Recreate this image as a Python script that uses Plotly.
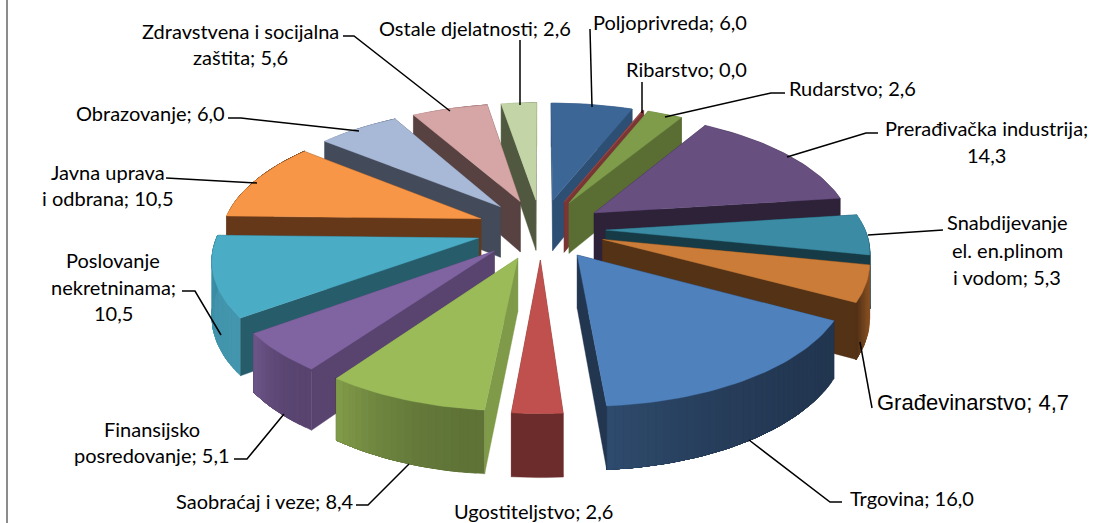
import math
import plotly.graph_objects as go

# ---- data ----
categories = ["Poljoprivreda", "Ribarstvo", "Rudarstvo", "Prerađivačka industrija",
              "Snabdijevanje el. en.plinom i vodom", "Građevinarstvo", "Trgovina",
              "Ugostiteljstvo", "Saobraćaj i veze", "Finansijsko posredovanje",
              "Poslovanje nekretninama", "Javna uprava i odbrana", "Obrazovanje",
              "Zdravstvena i socijalna zaštita", "Ostale djelatnosti"]
values = [6.0, 0.1, 2.6, 14.3, 5.3, 4.7, 16.0, 2.6, 8.4, 5.1, 10.5, 10.5, 6.0, 5.6, 2.6]

top_colors = ["#3C6696", "#A34F4C", "#7E9C4A", "#674F80", "#3A8BA3", "#CA7C38", "#4F81BD",
              "#C0504D", "#9BBB59", "#8064A2", "#4BACC6", "#F79646", "#A8B9D7", "#D6A5A5", "#C3D4A6"]
side_colors = ["#2E4F74", "#7A3634", "#5A6E34", "#2D2238", "#173B46", "#533216", "#223650",
               "#6C2C2B", "#7F9A48", "#58446F", "#275C6B", "#65381A", "#434B5A", "#584141", "#50593F"]
rim_start = ["#2E4F74", "#7A3634", "#5A6E34", "#2D2238", "#2F7A90", "#8A5224", "#223650",
             "#6C2C2B", "#5F7337", "#58446F", "#4396AD", "#8A4F20", "#8C9BB5", "#B58B8B", "#A5B48C"]
rim_end = ["#2E4F74", "#7A3634", "#5A6E34", "#2D2238", "#173B46", "#533216", "#2E4A6C",
           "#6C2C2B", "#7F9A48", "#6C5488", "#3A8BA3", "#65381A", "#6E7B92", "#8F7272", "#8A9874"]

label_lines = [["Poljoprivreda; 6,0"], ["Ribarstvo; 0,0"], ["Rudarstvo; 2,6"],
               ["Prerađivačka industrija;", "14,3"],
               ["Snabdijevanje", "el. en.plinom", "i vodom; 5,3"], ["Građevinarstvo; 4,7"],
               ["Trgovina; 16,0"], ["Ugostiteljstvo; 2,6"], ["Saobraćaj i veze; 8,4"],
               ["Finansijsko", "posredovanje; 5,1"], ["Poslovanje", "nekretninama;", "10,5"],
               ["Javna uprava", "i odbrana; 10,5"], ["Obrazovanje; 6,0"],
               ["Zdravstvena i socijalna", "zaštita; 5,6"], ["Ostale djelatnosti; 2,6"]]

# ---- layout of the labels and leader lines (pixel-scaled axes) ----
label_pos = [[(670, 22)], [(686, 69)], [(852, 88)], [(986, 128), (986, 155)],
             [(1007, 222), (1007, 250), (1007, 277)], [(973, 402)], [(912, 498)], [(533, 511)],
             [(265, 501)], [(152, 429), (152, 455)], [(113, 260), (113, 287), (113, 313)],
             [(108, 172), (108, 198)], [(150, 113)], [(240, 31), (240, 57)], [(475, 28)]]
leaders = [[(590, 29), (592, 107)], [(642, 82), (642, 113)], [(785, 93), (771, 93), (665, 117)],
           [(878, 133), (866, 133), (787, 157)], [(943, 230), (868, 235)], [(872, 408), (860, 342)],
           [(842, 502), (830, 502), (749, 440)], [],
           [(356, 505), (368, 505), (409, 464)], [(234, 459), (247, 459), (284, 414)],
           [(182, 291), (195, 291), (221, 335)], [(166, 178), (257, 183)],
           [(228, 118), (241, 118), (359, 131)], [(343, 36), (354, 36), (450, 111)],
           [(520, 40), (520, 105)]]

# ---- projection of a flat pie onto the page ----
CX, CY, A, B, K, H, EXPLODE = 541, 229, 259, 120, 0.15, 52, 0.25


def project(x, y, low=False):
    w = 1 + K * y
    return CX + A * x / w, CY - B * y / w + (H / w if low else 0)


def hex_mix(c1, c2, t):
    a = [int(c1[i:i + 2], 16) for i in (1, 3, 5)]
    b = [int(c2[i:i + 2], 16) for i in (1, 3, 5)]
    return "#%02x%02x%02x" % tuple(round(p + (q - p) * t) for p, q in zip(a, b))


total = sum(values)
slices = []
acc = 0.0
for i, v in enumerate(values):
    a0 = acc / total * 2 * math.pi
    acc += v
    a1 = acc / total * 2 * math.pi
    mid = (a0 + a1) / 2
    ox, oy = EXPLODE * math.sin(mid), EXPLODE * math.cos(mid)
    n = max(2, int((a1 - a0) / math.radians(1.5)))
    arc = [(ox + math.sin(a0 + (a1 - a0) * j / n), oy + math.cos(a0 + (a1 - a0) * j / n))
           for j in range(n + 1)]
    slices.append(dict(i=i, tip=(ox, oy), arc=arc, a0=a0, a1=a1,
                       depth=oy + 0.6 * math.cos(mid)))

fig = go.Figure()


def poly(points, color):
    xs = [p[0] for p in points] + [points[0][0]]
    ys = [p[1] for p in points] + [points[0][1]]
    fig.add_trace(go.Scatter(x=xs, y=ys, mode="lines", fill="toself", fillcolor=color,
                             line=dict(color=color, width=0.4), hoverinfo="skip",
                             showlegend=False))


def side(tip, end, color):
    poly([project(*tip), project(*end), project(*end, low=True), project(*tip, low=True)], color)


for s in sorted(slices, key=lambda q: -q["depth"]):
    i, tip, arc = s["i"], s["tip"], s["arc"]
    first_visible = math.sin(s["a0"]) < 0
    last_visible = math.sin(s["a1"]) > 0
    if not first_visible:
        side(tip, arc[0], side_colors[i])
    if not last_visible:
        side(tip, arc[-1], side_colors[i])
    m = len(arc) - 1
    step = 1 if rim_start[i] != rim_end[i] else m
    for j in range(0, m, step):
        t = (j / max(1, m - 1)) ** 2
        part = arc[j:]
        poly([project(*p) for p in part] + [project(*p, low=True) for p in reversed(part)],
             hex_mix(rim_start[i], rim_end[i], t))
    if first_visible:
        side(tip, arc[0], side_colors[i])
    if last_visible:
        side(tip, arc[-1], side_colors[i])
    poly([project(*tip)] + [project(*p) for p in arc], top_colors[i])

shapes = [dict(type="line", x0=7, x1=7, y0=0, y1=523, xref="x", yref="y",
               line=dict(color="#8C8C8C", width=2))]
for pts in leaders:
    if pts:
        path = "M" + " L".join(f"{x},{y}" for x, y in pts)
        shapes.append(dict(type="path", path=path, xref="x", yref="y",
                           line=dict(color="#000000", width=1.5)))

annotations = []
for lines, poss, cat in zip(label_lines, label_pos, categories):
    is_arial = cat == "Građevinarstvo"
    for text, (x, y) in zip(lines, poss):
        annotations.append(dict(x=x, y=y, xref="x", yref="y", text=text, showarrow=False,
                                xanchor="center", yanchor="middle",
                                font=dict(family="Liberation Sans" if is_arial else "Lato",
                                          size=22 if is_arial else 20, color="#000000")))

fig.update_layout(width=1109, height=523, margin=dict(l=0, r=0, t=0, b=0),
                  paper_bgcolor="#ffffff", plot_bgcolor="#ffffff", shapes=shapes,
                  annotations=annotations, showlegend=False,
                  xaxis=dict(range=[0, 1109], visible=False, fixedrange=True),
                  yaxis=dict(range=[523, 0], visible=False, fixedrange=True))
fig.write_html("out.html", config=dict(displayModeBar=False),
               post_script="document.body.style.margin='0';document.body.style.overflow='hidden';")
